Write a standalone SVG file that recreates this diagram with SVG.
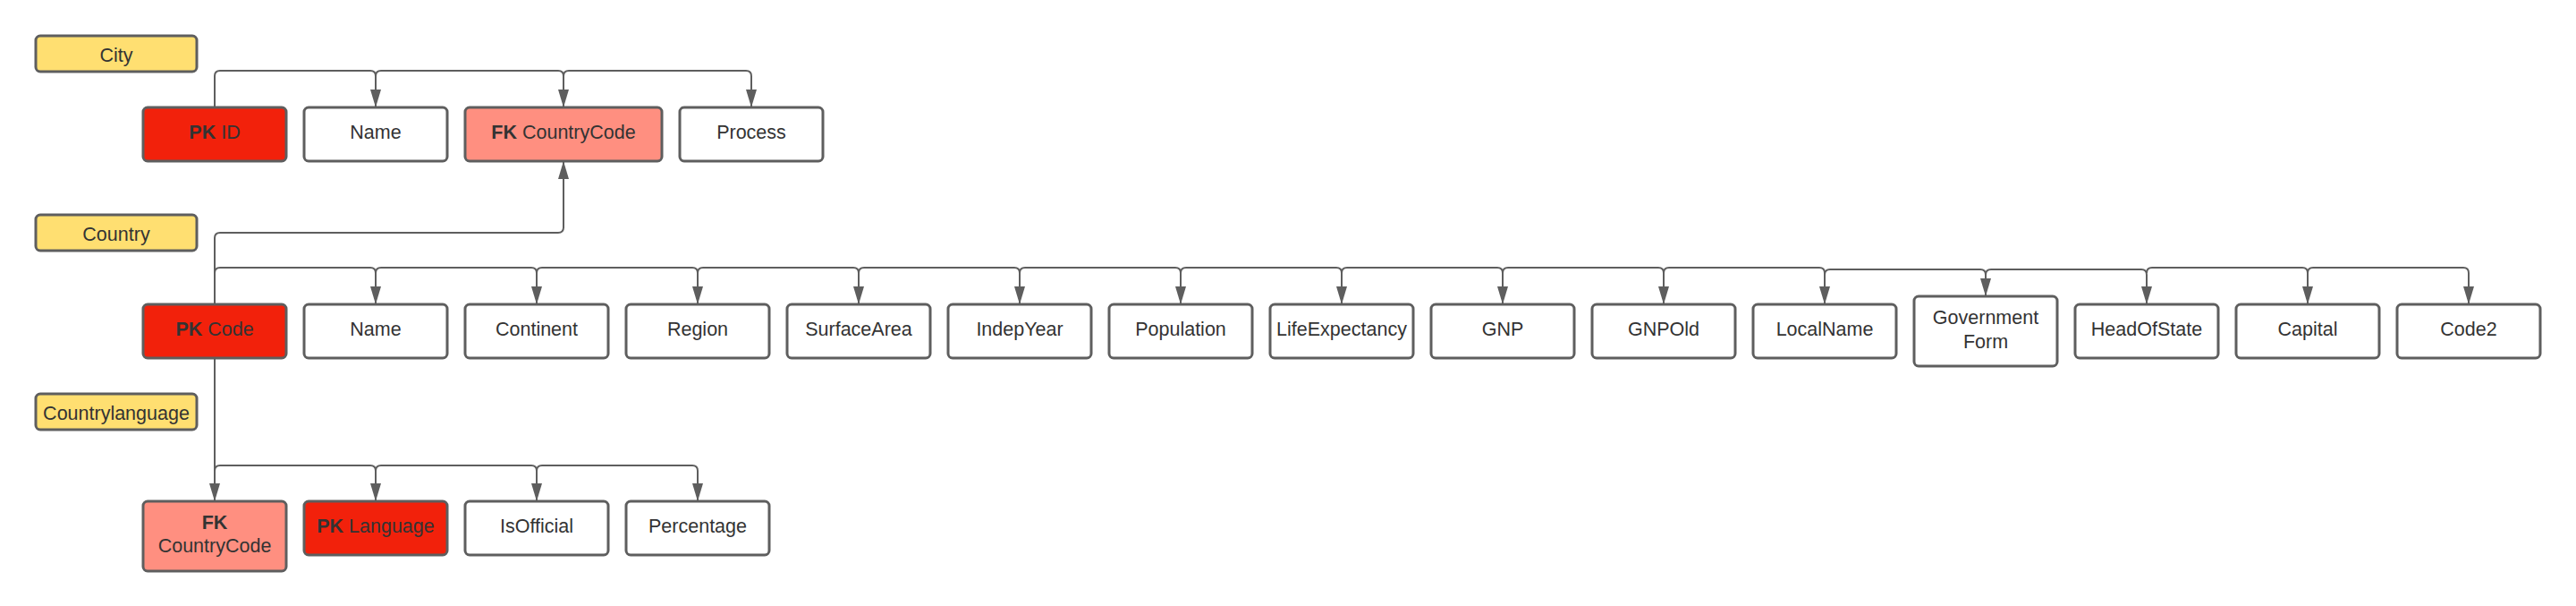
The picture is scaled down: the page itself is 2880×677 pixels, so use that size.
<svg xmlns="http://www.w3.org/2000/svg" width="2880" height="677" viewBox="0 0 2880 677">
<style>
.box{stroke:#5e5e5e;stroke-width:3}
.attr{fill:#ffffff}
.pk{fill:#f2210b}
.fk{fill:#ff8f80}
.lbl{fill:#ffdf71}
text{font-family:"Liberation Sans",Arial,sans-serif;font-size:21.5px;fill:#333333;text-anchor:middle}
.b{font-weight:bold}
.c path{fill:none;stroke:#5e5e5e;stroke-width:2}
</style>
<defs>
<marker id="ah" viewBox="0 0 20 12" refX="20" refY="6" markerWidth="20" markerHeight="12" markerUnits="userSpaceOnUse" orient="auto">
<path d="M0,0 L20,6 L0,12 z" fill="#5e5e5e"/>
</marker>
</defs>
<rect width="2880" height="677" fill="#ffffff"/>

<g class="c" id="connectors">
<!-- City -->
<path d="M240,120 V85 Q240,79 246,79 H414 Q420,79 420,85 V120" marker-end="url(#ah)"/>
<path d="M420,85 Q420,79 426,79 H624 Q630,79 630,85 V120" marker-end="url(#ah)"/>
<path d="M630,85 Q630,79 636,79 H834 Q840,79 840,85 V120" marker-end="url(#ah)"/>
<!-- Country to City FK -->
<path d="M240,340 V266 Q240,260 246,260 H624 Q630,260 630,254 V180" marker-end="url(#ah)"/>
<!-- Country attributes -->
<path d="M240,340 V305 Q240,299 246,299 H414 Q420,299 420,305 V340" marker-end="url(#ah)"/>
<path d="M420,305 Q420,299 426,299 H594 Q600,299 600,305 V340" marker-end="url(#ah)"/>
<path d="M600,305 Q600,299 606,299 H774 Q780,299 780,305 V340" marker-end="url(#ah)"/>
<path d="M780,305 Q780,299 786,299 H954 Q960,299 960,305 V340" marker-end="url(#ah)"/>
<path d="M960,305 Q960,299 966,299 H1134 Q1140,299 1140,305 V340" marker-end="url(#ah)"/>
<path d="M1140,305 Q1140,299 1146,299 H1314 Q1320,299 1320,305 V340" marker-end="url(#ah)"/>
<path d="M1320,305 Q1320,299 1326,299 H1494 Q1500,299 1500,305 V340" marker-end="url(#ah)"/>
<path d="M1500,305 Q1500,299 1506,299 H1674 Q1680,299 1680,305 V340" marker-end="url(#ah)"/>
<path d="M1680,305 Q1680,299 1686,299 H1854 Q1860,299 1860,305 V340" marker-end="url(#ah)"/>
<path d="M1860,305 Q1860,299 1866,299 H2034 Q2040,299 2040,305 V340" marker-end="url(#ah)"/>
<path d="M2040,307 Q2040,301 2046,301 H2214 Q2220,301 2220,307 V331" marker-end="url(#ah)"/>
<path d="M2220,307 Q2220,301 2226,301 H2394 Q2400,301 2400,307 V340" marker-end="url(#ah)"/>
<path d="M2400,305 Q2400,299 2406,299 H2574 Q2580,299 2580,305 V340" marker-end="url(#ah)"/>
<path d="M2580,305 Q2580,299 2586,299 H2754 Q2760,299 2760,305 V340" marker-end="url(#ah)"/>
<!-- Countrylanguage -->
<path d="M240,400 V560" marker-end="url(#ah)"/>
<path d="M240,526 Q240,520 246,520 H414 Q420,520 420,526 V560" marker-end="url(#ah)"/>
<path d="M420,526 Q420,520 426,520 H594 Q600,520 600,526 V560" marker-end="url(#ah)"/>
<path d="M600,526 Q600,520 606,520 H774 Q780,520 780,526 V560" marker-end="url(#ah)"/>
</g>

<!-- Labels -->
<g id="label-city"><rect class="box lbl" x="40" y="40" width="180" height="40" rx="5"/><text x="130" y="68.5">City</text></g>
<g id="label-country"><rect class="box lbl" x="40" y="240" width="180" height="40" rx="5"/><text x="130" y="268.5">Country</text></g>
<g id="label-countrylanguage"><rect class="box lbl" x="40" y="440" width="180" height="40" rx="5"/><text x="130" y="468.5">Countrylanguage</text></g>

<!-- City row -->
<g id="city-id"><rect class="box pk" x="160" y="120" width="160" height="60" rx="5"/><text x="240" y="154.5"><tspan class="b">PK</tspan> ID</text></g>
<g id="city-name"><rect class="box attr" x="340" y="120" width="160" height="60" rx="5"/><text x="420" y="154.5">Name</text></g>
<g id="city-countrycode"><rect class="box fk" x="520" y="120" width="220" height="60" rx="5"/><text x="630" y="154.5"><tspan class="b">FK</tspan> CountryCode</text></g>
<g id="city-process"><rect class="box attr" x="760" y="120" width="160" height="60" rx="5"/><text x="840" y="154.5">Process</text></g>

<!-- Country row -->
<g id="country-code"><rect class="box pk" x="160" y="340" width="160" height="60" rx="5"/><text x="240" y="374.5"><tspan class="b">PK</tspan> Code</text></g>
<g id="country-name"><rect class="box attr" x="340" y="340" width="160" height="60" rx="5"/><text x="420" y="374.5">Name</text></g>
<g id="country-continent"><rect class="box attr" x="520" y="340" width="160" height="60" rx="5"/><text x="600" y="374.5">Continent</text></g>
<g id="country-region"><rect class="box attr" x="700" y="340" width="160" height="60" rx="5"/><text x="780" y="374.5">Region</text></g>
<g id="country-surfacearea"><rect class="box attr" x="880" y="340" width="160" height="60" rx="5"/><text x="960" y="374.5">SurfaceArea</text></g>
<g id="country-indepyear"><rect class="box attr" x="1060" y="340" width="160" height="60" rx="5"/><text x="1140" y="374.5">IndepYear</text></g>
<g id="country-population"><rect class="box attr" x="1240" y="340" width="160" height="60" rx="5"/><text x="1320" y="374.5">Population</text></g>
<g id="country-lifeexpectancy"><rect class="box attr" x="1420" y="340" width="160" height="60" rx="5"/><text x="1500" y="374.5">LifeExpectancy</text></g>
<g id="country-gnp"><rect class="box attr" x="1600" y="340" width="160" height="60" rx="5"/><text x="1680" y="374.5">GNP</text></g>
<g id="country-gnpold"><rect class="box attr" x="1780" y="340" width="160" height="60" rx="5"/><text x="1860" y="374.5">GNPOld</text></g>
<g id="country-localname"><rect class="box attr" x="1960" y="340" width="160" height="60" rx="5"/><text x="2040" y="374.5">LocalName</text></g>
<g id="country-governmentform"><rect class="box attr" x="2140" y="331" width="160" height="78" rx="5"/><text x="2220" y="361.5">Government</text><text x="2220" y="388.5">Form</text></g>
<g id="country-headofstate"><rect class="box attr" x="2320" y="340" width="160" height="60" rx="5"/><text x="2400" y="374.5">HeadOfState</text></g>
<g id="country-capital"><rect class="box attr" x="2500" y="340" width="160" height="60" rx="5"/><text x="2580" y="374.5">Capital</text></g>
<g id="country-code2"><rect class="box attr" x="2680" y="340" width="160" height="60" rx="5"/><text x="2760" y="374.5">Code2</text></g>

<!-- Countrylanguage row -->
<g id="cl-countrycode"><rect class="box fk" x="160" y="560" width="160" height="78" rx="5"/><text x="240" y="590.5" class="b">FK</text><text x="240" y="616.5">CountryCode</text></g>
<g id="cl-language"><rect class="box pk" x="340" y="560" width="160" height="60" rx="5"/><text x="420" y="594.5"><tspan class="b">PK</tspan> Language</text></g>
<g id="cl-isofficial"><rect class="box attr" x="520" y="560" width="160" height="60" rx="5"/><text x="600" y="594.5">IsOfficial</text></g>
<g id="cl-percentage"><rect class="box attr" x="700" y="560" width="160" height="60" rx="5"/><text x="780" y="594.5">Percentage</text></g>
</svg>
